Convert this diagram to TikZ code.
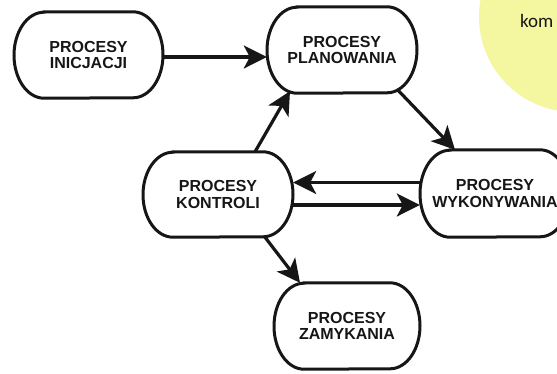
\documentclass[tikz,border=0pt]{standalone}
\usepackage{fontspec}
\setmainfont{Liberation Sans}
\newfontfamily\komfont{Carlito}
\usetikzlibrary{arrows.meta}
\definecolor{pale}{RGB}{244,246,160}
\definecolor{ink}{RGB}{22,22,22}
\newcommand\stadium[4]{%
  \draw[border] ([xshift=-#2]#1.north) -- ([xshift=#2]#1.north)
    arc[start angle=90,end angle=-90,x radius=#3,y radius=#4]
    -- ([xshift=-#2]#1.south)
    arc[start angle=270,end angle=90,x radius=#3,y radius=#4] -- cycle;}
\begin{document}
\begin{tikzpicture}[x=1pt,y=-1pt,
  box/.style={minimum width=150pt,minimum height=86pt,inner sep=0pt,align=center,
    font=\bfseries\fontsize{16}{16.5}\selectfont,text=ink},
  border/.style={draw=ink,line width=3pt},
  arr/.style={draw=ink,line width=3.2pt,-{Stealth[length=23pt,width=23pt,inset=6pt]}}]
\useasboundingbox (0,0) rectangle (557,373);
\fill[pale] (574,17) circle[radius=95pt];
\node[anchor=base west,inner sep=0pt,font=\komfont\fontsize{19}{23}\selectfont,text=ink] (kom) at (520,27) {kom};

\node[box,minimum width=149pt] (ini) at (88.5,55) {PROCESY\\INICJACJI};
\node[box] (plan) at (342,50) {PROCESY\\PLANOWANIA};
\node[box,minimum height=85pt] (kon) at (218,194.5) {PROCESY\\KONTROLI};
\node[box,minimum height=87pt] (wyk) at (495,193.5) {PROCESY\\WYKONYWANIA};
\node[box,minimum width=146pt] (zam) at (347,326) {PROCESY\\ZAMYKANIA};

\stadium{ini}{44.5pt}{30pt}{43pt}
\stadium{plan}{45pt}{30pt}{43pt}
\stadium{kon}{45pt}{30pt}{42.5pt}
\stadium{wyk}{45pt}{30pt}{43.5pt}
\stadium{zam}{43pt}{30pt}{43pt}

\draw[arr] ([yshift=-2pt]ini.east) -- ([yshift=-2pt]ini.east -| plan.west);
\draw[arr] ([xshift=37pt]kon.north) -- ([xshift=-52pt,yshift=2pt]plan.south);
\draw[arr] ([xshift=56pt,yshift=3pt]plan.south) -- ([xshift=-40pt]wyk.north);
\draw[arr] ([yshift=12pt]kon.east -| wyk.west) -- ([yshift=12pt]kon.east);
\draw[arr] ([yshift=-10.5pt]kon.east) -- ([yshift=-10.5pt]kon.east -| wyk.west);
\draw[arr] ([xshift=47pt]kon.south) -- ([xshift=-47pt]zam.north);
\end{tikzpicture}
\end{document}
